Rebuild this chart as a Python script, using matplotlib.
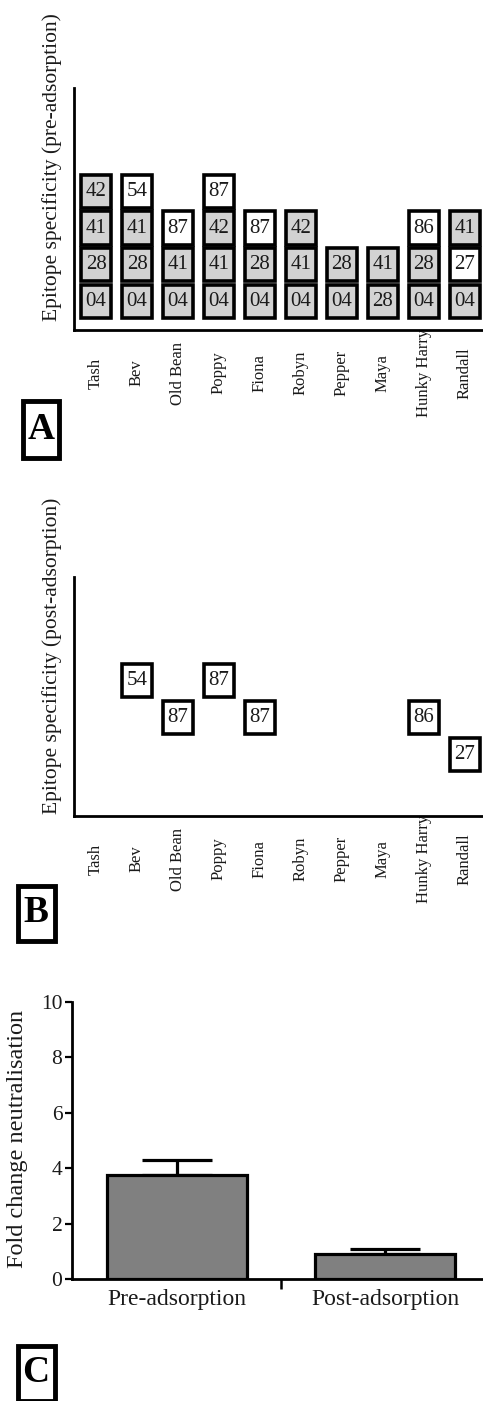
import matplotlib
matplotlib.use("Agg")
import matplotlib.pyplot as plt
from matplotlib.patches import Rectangle

plt.rcParams["font.family"] = ["Liberation Serif", "DejaVu Serif"]

# ---- data -------------------------------------------------------------
donors = ["Tash", "Bev", "Old Bean", "Poppy", "Fiona", "Robyn",
          "Pepper", "Maya", "Hunky Harry", "Randall"]

# epitopes recognised before adsorption, listed from the bottom of each stack
pre_epitopes = [
    ["04", "28", "41", "42"],
    ["04", "28", "41", "54"],
    ["04", "41", "87"],
    ["04", "41", "42", "87"],
    ["04", "28", "87"],
    ["04", "41", "42"],
    ["04", "28"],
    ["28", "41"],
    ["04", "28", "86"],
    ["04", "27", "41"],
]

# epitope still recognised after adsorption (None = no remaining reactivity)
post_epitopes = [None, "54", "87", "87", "87", None, None, None, "86", "27"]

conditions = ["Pre-adsorption", "Post-adsorption"]
fold_change = [3.75, 0.9]
fold_change_sem = [0.55, 0.18]

# ---- figure -----------------------------------------------------------
W, H = 483, 1401
fig = plt.figure(figsize=(W / 100, H / 100), dpi=100)


def fy(px):
    return 1 - px / H


GREY_BOX = "#d2d2d2"
TXT = "#1a1a1a"
BOX_LW_PX = 3.6
X_UNIT_PX = 41.0
Y_UNIT_PX = 36.8
BOX_W = 0.83


def epitope_panel(ax, stacks, base, ylim_top, ylabel, label_y):
    inset_x = BOX_LW_PX / X_UNIT_PX
    inset_y = BOX_LW_PX / Y_UNIT_PX
    for i, stack in enumerate(stacks):
        for row, ep, fill in stack:
            ax.bar(i, 1 - inset_y, width=BOX_W - inset_x,
                   bottom=base + row + inset_y / 2, color=fill,
                   edgecolor="black", linewidth=BOX_LW_PX * 0.72,
                   clip_on=False, zorder=3)
            ax.text(i, base + row + 0.5, ep, ha="center", va="center",
                    fontsize=15, color=TXT, zorder=4)
    ax.set_xlim(-0.537, 9.44)
    ax.set_ylim(0, ylim_top)
    ax.set_xticks(range(len(donors)))
    ax.set_xticklabels(donors, rotation=90, fontsize=12, color=TXT,
                       va="center", ha="center")
    ax.tick_params(axis="x", length=0, pad=31)
    ax.set_yticks([])
    for s in ("top", "right"):
        ax.spines[s].set_visible(False)
    for s in ("left", "bottom"):
        ax.spines[s].set_linewidth(2.0)
    fig.text(52 / W, fy(label_y), ylabel, rotation=90, ha="center",
             va="center", fontsize=15.5, color=TXT)


# Panel A: full epitope repertoire before adsorption
axA = fig.add_axes([74 / W, fy(330), 1 - 74 / W, (330 - 88) / H])
stacks_pre = []
for eps, post in zip(pre_epitopes, post_epitopes):
    stacks_pre.append([(r, e, "white" if e == post else GREY_BOX)
                       for r, e in enumerate(eps)])
epitope_panel(axA, stacks_pre, 0.27, (330 - 88) / Y_UNIT_PX,
              "Epitope specificity (pre-adsorption)", 167)

# Panel B: remaining specificity after adsorption, kept at its stack level
axB = fig.add_axes([74 / W, fy(816), 1 - 74 / W, (816 - 577) / H])
stacks_post = []
for eps, post in zip(pre_epitopes, post_epitopes):
    stacks_post.append([] if post is None else [(eps.index(post), post, "white")])
epitope_panel(axB, stacks_post, 0.18, (816 - 577) / Y_UNIT_PX,
              "Epitope specificity (post-adsorption)", 656)

# Panel C: fold change in neutralisation
axC = fig.add_axes([72 / W, fy(1279), 1 - 72 / W, (1279 - 1002) / H])
xc = range(len(conditions))
axC.bar(xc, fold_change, width=0.673, color="#808080", edgecolor="black",
        linewidth=2.3, zorder=2)
axC.errorbar(xc, fold_change, yerr=[[0] * len(fold_change), fold_change_sem],
             fmt="none", ecolor="black", elinewidth=2.3, capsize=25,
             capthick=2.3, zorder=1)
axC.set_xlim(-0.505, 1.47)
axC.set_ylim(0, 10)
axC.set_yticks(range(0, 11, 2))
axC.tick_params(axis="y", length=5, width=1.6, pad=2, labelsize=15.5,
                labelcolor=TXT)
axC.set_xticks(list(xc))
axC.set_xticklabels(conditions, fontsize=17, color=TXT)
axC.tick_params(axis="x", which="major", length=0, pad=7)
axC.set_xticks([0.5], minor=True)
axC.tick_params(axis="x", which="minor", length=7, width=1.8)
for s in ("top", "right"):
    axC.spines[s].set_visible(False)
for s in ("left", "bottom"):
    axC.spines[s].set_linewidth(2.0)
fig.text(18 / W, fy(1139), "Fold change neutralisation", rotation=90,
         ha="center", va="center", fontsize=17.5, color=TXT)

# Boxed panel letters
for letter, x0, y0, x1, y1 in [("A", 20, 399, 62, 460),
                               ("B", 15, 883, 57, 943),
                               ("C", 15, 1343, 57, 1403)]:
    inset = 2.5
    fig.add_artist(Rectangle((( x0 + inset) / W, fy(y1 - inset)),
                             (x1 - x0 - 2 * inset) / W,
                             (y1 - y0 - 2 * inset) / H,
                             transform=fig.transFigure, fill=False,
                             edgecolor="black", linewidth=3.5))
    fig.text((x0 + x1) / 2 / W, fy((y0 + y1) / 2), letter, ha="center",
             va="center", fontsize=27, fontweight="bold", color="black")

fig.savefig("out.png", dpi=100)
